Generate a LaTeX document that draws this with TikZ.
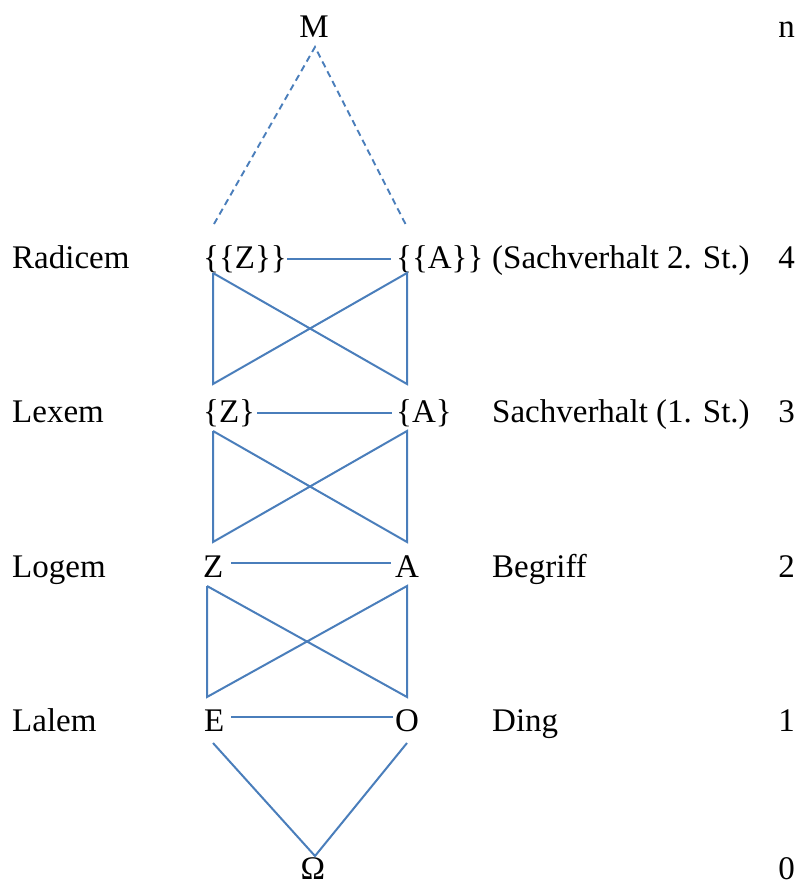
\documentclass[tikz,border=0pt]{standalone}
\usepackage{fontspec}
\setmainfont{Liberation Serif}
\begin{document}
\begin{tikzpicture}[x=1pt,y=-1pt,
  txt/.style={inner sep=0pt,font=\fontsize{33}{36}\selectfont},
  lft/.style={txt,anchor=base west},
  ctr/.style={txt,anchor=base},
  rgt/.style={txt,anchor=base east},
  link/.style={draw=linkblue,line width=2pt},
  thick link/.style={draw=linkblue,line width=2.8pt},
  dash link/.style={draw=linkblue,line width=1.9pt,dash pattern=on 6.5pt off 4.5pt}]
\definecolor{linkblue}{RGB}{74,126,187}
\useasboundingbox (0,0) rectangle (798,886);
% text
\node[ctr] (M) at (314,37) {M};
\node[rgt] (n) at (795,37) {n};
\node[lft] (radicem) at (12,268) {Radicem};
\node[lft] (zz) at (203,268) {\{\{Z\}\}};
\node[lft] (aa) at (396,268) {\{\{A\}\}};
\node[lft] (sv2) at (492,268) {(Sachverhalt 2. St.)};
\node[rgt] (n4) at (795,268) {4};
\node[lft] (lexem) at (12,422) {Lexem};
\node[lft] (z1) at (203,422) {\{Z\}};
\node[lft] (a1) at (396,422) {\{A\}};
\node[lft] (sv1) at (492,422) {Sachverhalt (1. St.)};
\node[rgt] (n3) at (795,422) {3};
\node[lft] (logem) at (12,577) {Logem};
\node[lft] (z2) at (203,577) {Z};
\node[lft] (a2) at (395,577) {A};
\node[lft] (begriff) at (492,577) {Begriff};
\node[rgt] (n2) at (795,577) {2};
\node[lft] (lalem) at (12,731) {Lalem};
\node[lft] (e) at (204,731) {E};
\node[lft] (o) at (395,731) {O};
\node[lft] (ding) at (492,731) {Ding};
\node[rgt] (n1) at (795,731) {1};
\node[ctr] (om) at (313,879) {Ω};
\node[rgt] (n0) at (795,879) {0};
% endpoints
\coordinate (mtip) at (315,47);
\coordinate (zz-top) at (214,224);
\coordinate (aa-top) at (407,227);
\coordinate (zz-east) at (287,259);
\coordinate (aa-west) at (391,259);
\coordinate (zz-bot) at (213,273);
\coordinate (aa-bot) at (407,273);
\coordinate (z1-top) at (213,384);
\coordinate (a1-top) at (407,384);
\coordinate (z1-east) at (257,413);
\coordinate (a1-west) at (392,413);
\coordinate (z1-bot) at (213,431);
\coordinate (a1-bot) at (407,431);
\coordinate (z2-top) at (213,542);
\coordinate (a2-top) at (407,542);
\coordinate (z2-east) at (231,563);
\coordinate (a2-west) at (391,563);
\coordinate (z2-bot) at (207,586);
\coordinate (a2-bot) at (407,586);
\coordinate (e-top) at (207,697);
\coordinate (o-top) at (407,697);
\coordinate (e-east) at (231,717);
\coordinate (o-west) at (393,717);
\coordinate (e-bot) at (213,743);
\coordinate (o-bot) at (407,743);
\coordinate (om-top) at (315,856);
% connectors
\draw[dash link] (zz-top) -- (mtip) -- (aa-top);
\draw[thick link] (zz-east) -- (aa-west);
\draw[link] (zz-bot) -- (z1-top) -- (aa-bot) -- (a1-top) -- (zz-bot);
\draw[link] (z1-east) -- (a1-west);
\draw[link] (z1-bot) -- (z2-top) -- (a1-bot) -- (a2-top) -- (z1-bot);
\draw[thick link] (z2-east) -- (a2-west);
\draw[link] (z2-bot) -- (e-top) -- (a2-bot) -- (o-top) -- (z2-bot);
\draw[link] (e-east) -- (o-west);
\draw[link] (e-bot) -- (om-top) -- (o-bot);
\end{tikzpicture}
\end{document}
